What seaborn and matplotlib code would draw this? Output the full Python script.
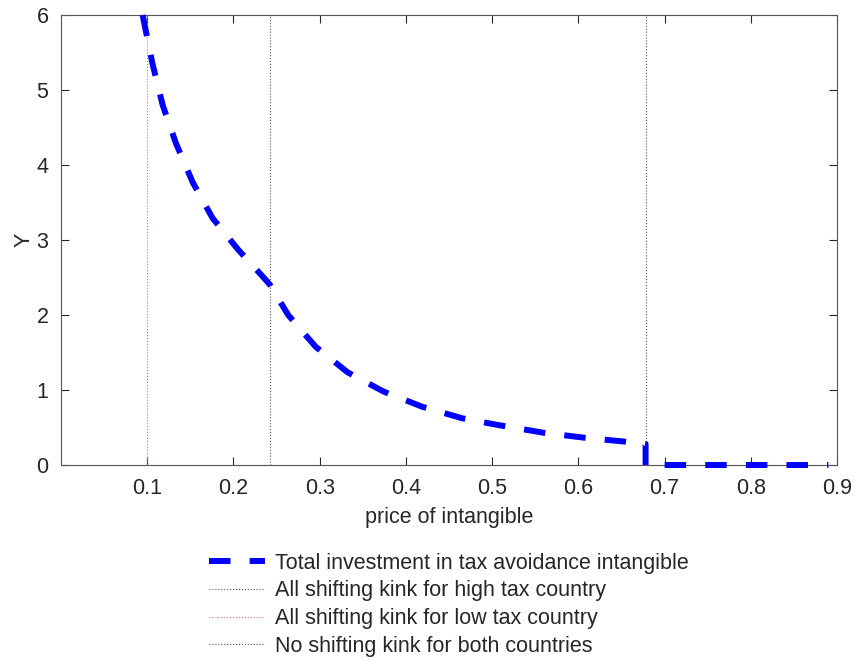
import matplotlib
matplotlib.use('Agg')
import matplotlib.pyplot as plt
import seaborn as sns
import pandas as pd

# values
price = [0.0947, 0.0966, 0.1059, 0.1179, 0.1333, 0.1527, 0.1759, 0.2056, 0.2373, 0.2425,
         0.2635, 0.2953, 0.3324, 0.3745, 0.4189, 0.4653, 0.507, 0.5592, 0.6067, 0.6547,
         0.671, 0.678, 0.678, 0.75, 0.82, 0.89]
investment = [6.0, 5.89, 5.36, 4.80, 4.29, 3.77, 3.29, 2.87, 2.47, 2.40,
              2.00, 1.577, 1.236, 0.977, 0.777, 0.623, 0.533, 0.431, 0.364, 0.311,
              0.29, 0.28, 0.0, 0.0, 0.0, 0.0]

kink_high = 0.2425
kink_low = 0.1
kink_none = 0.678

x_ticks = [0.1, 0.2, 0.3, 0.4, 0.5, 0.6, 0.7, 0.8, 0.9]
y_ticks = [0, 1, 2, 3, 4, 5, 6]

df = pd.DataFrame({'price': price, 'Y': investment})

sns.set_theme(style='ticks')
plt.rcParams['font.family'] = ['Liberation Sans', 'DejaVu Sans']
plt.rcParams['axes.edgecolor'] = '#262626'
plt.rcParams['xtick.color'] = '#262626'
plt.rcParams['ytick.color'] = '#262626'
plt.rcParams['text.color'] = '#262626'
plt.rcParams['axes.labelcolor'] = '#262626'

fig = plt.figure(figsize=(8.55, 6.6), dpi=100)
ax = fig.add_axes([61 / 855, 1 - 465 / 660, (837 - 61) / 855, (465 - 15) / 660])

sns.lineplot(data=df, x='price', y='Y', ax=ax, estimator=None, sort=False,
             color='#0000ff', lw=4.3, linestyle=(0, (3.6, 3.2)), clip_on=False, zorder=5,
             label='Total investment in tax avoidance intangible')
ax.axvline(kink_high, color='#555555', lw=0.8, ls=':', label='All shifting kink for high tax country')
ax.axvline(kink_low, color='#e07070', lw=0.8, ls=':', label='All shifting kink for low tax country')
ax.axvline(kink_none, color='#555555', lw=0.8, ls=':', label='No shifting kink for both countries')

ax.set_xlim(0, 0.9)
ax.set_ylim(0, 6)
ax.set_xticks(x_ticks)
ax.set_xticklabels([f'{t:.1f}' for t in x_ticks])
ax.set_yticks(y_ticks)
ax.tick_params(direction='in', length=6, width=0.8, top=True, right=True, labelsize=15.5, pad=9)
for s in ax.spines.values():
    s.set_visible(True)
    s.set_linewidth(0.8)
    s.set_color('#555555')

ax.set_xlabel('price of intangible', fontsize=15.5, labelpad=6)
ax.set_ylabel('Y', fontsize=15.5, labelpad=1)

ax.legend(loc='upper center', bbox_to_anchor=(0.5, -0.152), frameon=False, fontsize=15.5,
          handlelength=2.6, handletextpad=0.45, labelspacing=0.31)

fig.savefig('out.png', dpi=100)
